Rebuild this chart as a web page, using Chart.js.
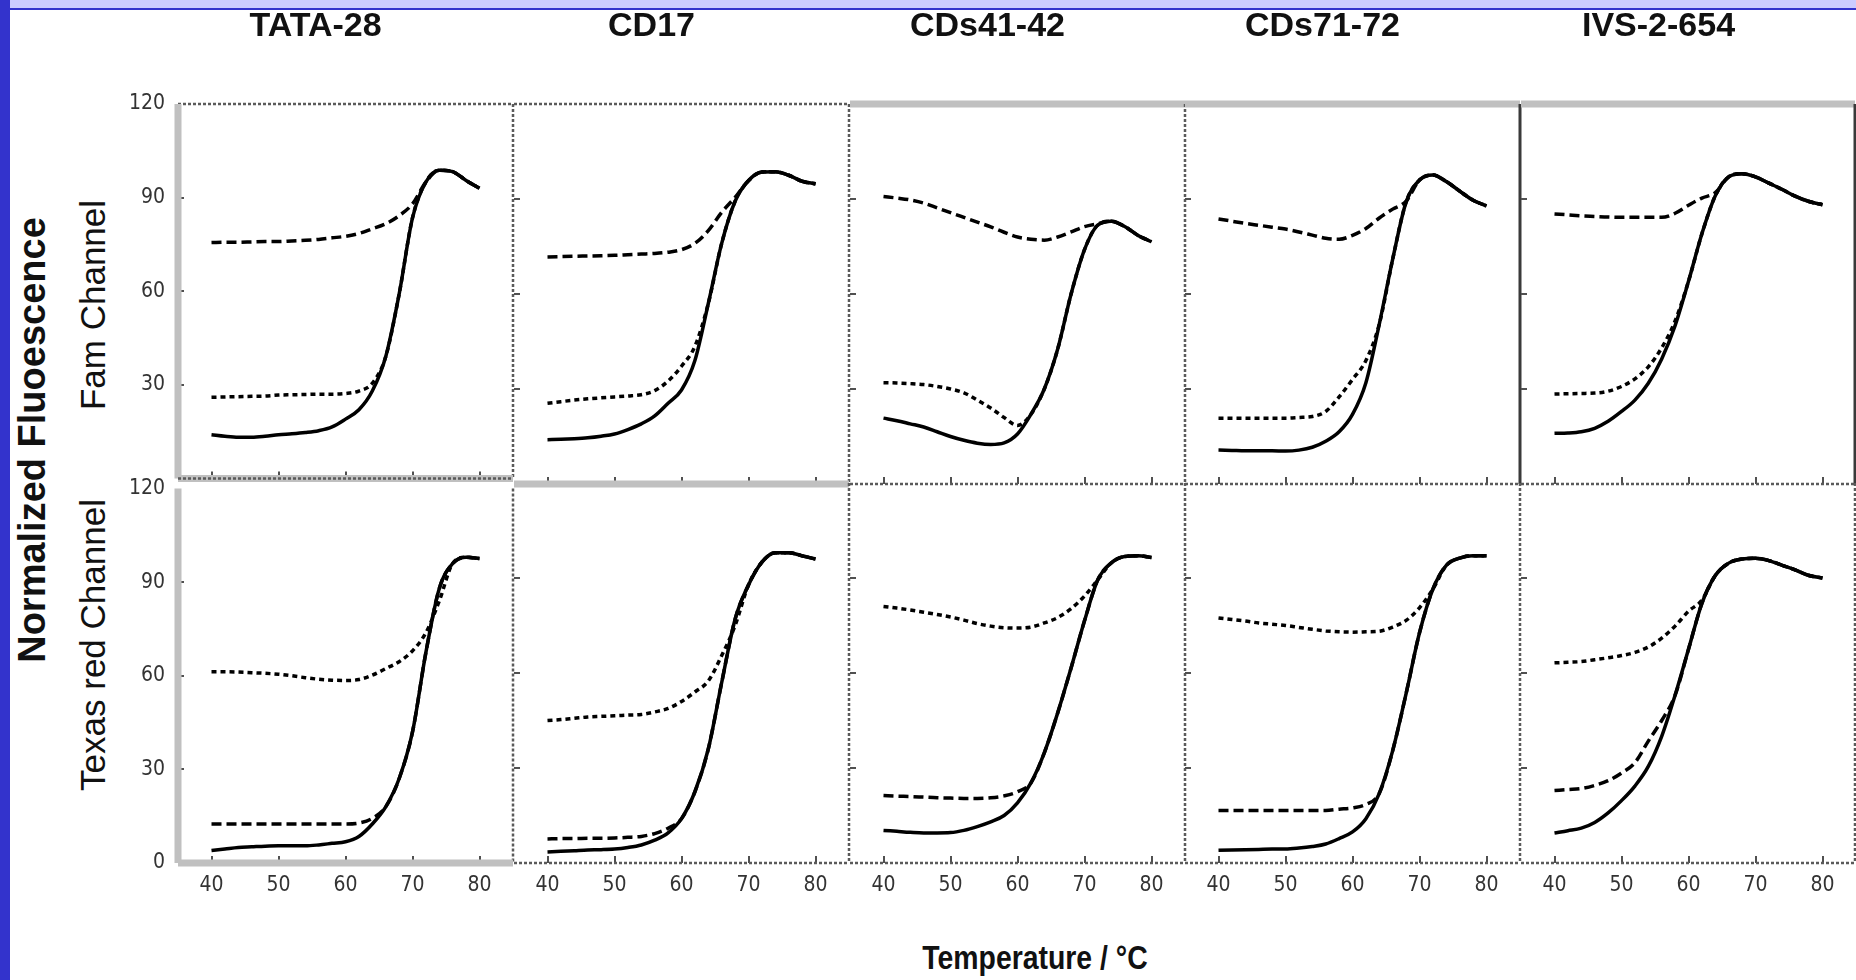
<!DOCTYPE html>
<html>
<head>
<meta charset="utf-8">
<script src="https://cdn.jsdelivr.net/npm/chart.js@4/dist/chart.umd.min.js"></script>
<style>
  body { margin: 0; background: #fff; width: 1856px; height: 980px; position: relative; overflow: hidden; font-family: 'Liberation Sans', Arial, sans-serif; color: #111; }
  #band { position: absolute; left: 0; top: 0; width: 1856px; height: 8px; background: #ccccff; border-bottom: 2px solid #3333cc; }
  #bar { position: absolute; left: 0; top: 0; width: 10px; height: 980px; background: #3333cc; }
  .vlabel { position: absolute; transform: translate(-50%, -50%) rotate(-90deg); white-space: nowrap; }
  canvas { position: absolute; }
</style>
</head>
<body>
<div id="band"></div>
<div id="bar"></div>
<div class="vlabel" style="left:32px; top:440px; font-weight:bold; font-size:38px;">Normalized Fluoescence</div>
<div class="vlabel" style="left:93px; top:305px; font-size:35px;">Fam Channel</div>
<div class="vlabel" style="left:93px; top:645px; font-size:35px;">Texas red Channel</div>
<div style="position:absolute; left:1035px; top:958px; transform:translate(-50%,-50%) scaleX(0.86); font:bold 33px 'Liberation Sans',sans-serif; white-space:nowrap;">Temperature / °C</div>
<script>
// melting curves (temperature in °C, normalized fluorescence)
const temps = [40, 42, 44, 46, 48, 50, 52, 54, 56, 58, 60, 62, 64, 66, 68, 70, 72, 74, 76, 78, 80];
const xTicks = [40, 50, 60, 70, 80];
const yTicks = [0, 30, 60, 90, 120];
const titles = ['TATA-28', 'CD17', 'CDs41-42', 'CDs71-72', 'IVS-2-654'];

// TATA-28
const tataFamSolid = [14, 13.5, 13.2, 13.2, 13.5, 14, 14.3, 14.7, 15.3, 16.5, 19, 22, 28, 39, 59, 83.5, 95, 98.8, 98.3, 95.5, 93];
const tataFamLong = [75.6, 75.7, 75.7, 75.8, 75.9, 75.9, 76.1, 76.3, 76.6, 77.1, 77.6, 78.5, 80, 81.6, 84.2, 88, 95, 98.8, 98.3, 95.5, 93];
const tataFamShort = [26, 26.1, 26.2, 26.3, 26.4, 26.7, 26.8, 26.9, 27, 27, 27.2, 28, 30.5, 39, 59, 83.5, 95, 98.8, 98.3, 95.5, 93];
const tataTrSolid = [4, 4.5, 5, 5.2, 5.4, 5.5, 5.5, 5.5, 5.8, 6.3, 6.8, 8.5, 12.5, 18, 27, 42, 67.5, 88, 96, 98, 97.6];
const tataTrLong = [12.5, 12.5, 12.5, 12.5, 12.5, 12.5, 12.5, 12.5, 12.5, 12.5, 12.5, 12.8, 14.3, 18, 27, 42, 67.5, 88, 96, 98, 97.6];
const tataTrShort = [61.3, 61.3, 61.2, 61, 60.8, 60.5, 60, 59.4, 58.9, 58.6, 58.5, 58.8, 60.2, 62.3, 64.5, 68, 73.8, 84, 96, 98, 97.6];

// CD17
const cd17FamSolid = [14, 14.1, 14.3, 14.6, 15.1, 15.8, 17.2, 19, 21.5, 25.5, 29.7, 39, 57, 76, 89.3, 95.8, 98.5, 98.6, 97.5, 95.6, 94.8];
const cd17FamLong = [71.7, 71.8, 71.9, 72, 72.1, 72.2, 72.4, 72.6, 72.8, 73.2, 74, 76, 80, 85.8, 90.5, 95.8, 98.5, 98.6, 97.5, 95.6, 94.8];
const cd17FamShort = [25.5, 26, 26.5, 26.9, 27.2, 27.5, 27.8, 28.2, 29.5, 32.5, 37.2, 43.5, 57, 76, 89.3, 95.8, 98.5, 98.6, 97.5, 95.6, 94.8];
const cd17TrSolid = [3.5, 3.7, 3.9, 4.1, 4.2, 4.4, 4.9, 5.7, 7.2, 9.5, 14, 22.5, 36, 57, 77, 87.8, 95, 98, 98, 97, 96];
const cd17TrLong = [7.6, 7.7, 7.7, 7.8, 7.8, 7.9, 8.1, 8.4, 9.3, 11, 14, 22.5, 36, 57, 77, 87.8, 95, 98, 98, 97, 96];
const cd17TrShort = [45, 45.3, 45.7, 46.1, 46.3, 46.5, 46.7, 46.9, 47.7, 48.8, 51, 54, 57.5, 65.5, 75, 87.8, 95, 98, 98, 97, 96];

// CDs41-42
const cds41FamSolid = [20.8, 20, 19, 18, 16.5, 15, 13.8, 12.9, 12.5, 13, 15.8, 22, 30, 42.6, 60, 74, 81.8, 83, 81.3, 78.5, 76.5];
const cds41FamLong = [90.8, 90.3, 89.7, 88.7, 87.2, 85.7, 84.2, 82.7, 81.2, 79.5, 78, 77.3, 77, 78, 79.6, 81.3, 82.2, 83, 81.3, 78.5, 76.5];
const cds41FamShort = [32, 31.9, 31.7, 31.4, 30.8, 30, 28.8, 26.5, 24, 21, 18.5, 22, 30, 42.6, 60, 74, 81.8, 83, 81.3, 78.5, 76.5];
const cds41TrSolid = [10.3, 10, 9.7, 9.5, 9.5, 9.6, 10.3, 11.5, 13, 15, 19, 25.3, 34.8, 47.4, 61.6, 76.5, 89.5, 94.8, 96.8, 97, 96.5];
const cds41TrLong = [21.3, 21.1, 21, 20.8, 20.6, 20.5, 20.4, 20.4, 20.6, 21.2, 22.5, 25.3, 34.8, 47.4, 61.6, 76.5, 89.5, 94.8, 96.8, 97, 96.5];
const cds41TrShort = [81, 80.5, 79.9, 79.2, 78.5, 77.7, 76.7, 75.6, 74.8, 74.3, 74.2, 74.5, 75.8, 77.5, 80.3, 84.3, 89.5, 94.8, 96.8, 97, 96.5];

// CDs71-72
const cds71FamSolid = [10.7, 10.6, 10.5, 10.5, 10.5, 10.4, 10.7, 11.6, 13.5, 16.5, 22, 32, 50.5, 71, 89, 96, 97.6, 95.5, 92.5, 89.6, 87.8];
const cds71FamLong = [83.7, 83, 82.3, 81.7, 81.1, 80.5, 79.6, 78.6, 77.6, 77.3, 78.5, 80.7, 84, 86.8, 89.3, 96, 97.6, 95.5, 92.5, 89.6, 87.8];
const cds71FamShort = [20.8, 20.8, 20.8, 20.8, 20.8, 20.8, 21, 21.3, 22.9, 27.5, 33, 39, 50.5, 71, 89, 96, 97.6, 95.5, 92.5, 89.6, 87.8];
const cds71TrSolid = [4, 4.1, 4.2, 4.3, 4.4, 4.4, 4.7, 5.2, 6, 7.7, 9.8, 14, 22, 35.5, 53.5, 72.7, 86.5, 94, 96.3, 97, 97];
const cds71TrLong = [16.6, 16.6, 16.6, 16.6, 16.6, 16.6, 16.6, 16.6, 16.6, 17, 17.4, 18.5, 22, 35.5, 53.5, 72.7, 86.5, 94, 96.3, 97, 97];
const cds71TrShort = [77.4, 76.9, 76.4, 75.8, 75.4, 75, 74.4, 73.8, 73.3, 73, 72.9, 73, 73.2, 74.5, 76.6, 80.6, 86.5, 94, 96.3, 97, 97];

// IVS-2-654
const ivsFamSolid = [16, 16.1, 16.5, 17.6, 19.8, 22.9, 26.5, 31.8, 39.5, 50, 64, 79, 91, 97, 98, 97, 95, 93, 90.8, 89.2, 88.2];
const ivsFamLong = [85.3, 85, 84.7, 84.5, 84.3, 84.2, 84.2, 84.2, 84.2, 85.5, 88, 90.3, 92, 97, 98, 97, 95, 93, 90.8, 89.2, 88.2];
const ivsFamShort = [28.4, 28.5, 28.6, 28.7, 29.3, 30.8, 33.2, 37, 43, 51.5, 64, 79, 91, 97, 98, 97, 95, 93, 90.8, 89.2, 88.2];
const ivsTrSolid = [9.5, 10.2, 11, 12.8, 15.8, 19.7, 24.3, 30.5, 40, 53, 67.5, 82, 90.8, 94.7, 96, 96.2, 95.5, 94, 92.5, 90.8, 90];
const ivsTrLong = [22.9, 23.2, 23.5, 24.5, 26, 28.4, 31.7, 38.5, 45, 53, 67.5, 82, 90.8, 94.7, 96, 96.2, 95.5, 94, 92.5, 90.8, 90];
const ivsTrShort = [63.2, 63.4, 63.6, 64.2, 64.8, 65.5, 66.5, 68.2, 71, 74.8, 79.5, 83, 90.8, 94.7, 96, 96.2, 95.5, 94, 92.5, 90.8, 90];

const famRows = [
  [tataFamSolid, tataFamLong, tataFamShort],
  [cd17FamSolid, cd17FamLong, cd17FamShort],
  [cds41FamSolid, cds41FamLong, cds41FamShort],
  [cds71FamSolid, cds71FamLong, cds71FamShort],
  [ivsFamSolid, ivsFamLong, ivsFamShort]
];
const trRows = [
  [tataTrSolid, tataTrLong, tataTrShort],
  [cd17TrSolid, cd17TrLong, cd17TrShort],
  [cds41TrSolid, cds41TrLong, cds41TrShort],
  [cds71TrSolid, cds71TrLong, cds71TrShort],
  [ivsTrSolid, ivsTrLong, ivsTrShort]
];

// layout of the panel grid
const panelLeft = [178, 514, 850, 1185, 1521];
const panelTop = [104, 483];
const PW = 335, PH = 380, PAD_L = 60, PAD_R = 32;
const LABEL_FONT = "'Liberation Sans Narrow', 'DejaVu Sans Condensed', 'Liberation Sans', sans-serif";

const dashes = [[], [10, 5], [5, 4]];

const edgeStyles = {
  grey: [{color: '#c0c0c0', width: 7, dash: []}],
  dot: [{color: '#5a5a5a', width: 2.5, dash: [3, 2]}],
  dark: [{color: '#3a3a3a', width: 3, dash: []}],
  greydot: [{color: '#c0c0c0', width: 7, dash: []}, {color: '#5a5a5a', width: 2.5, dash: [3, 2]}]
};
const frames = [
  [
    {top: 'dot', left: 'grey', right: 'dot', bottom: 'greydot'},
    {top: 'dot', right: 'dot', bottom: 'grey'},
    {top: 'grey', right: 'dot', bottom: 'dot'},
    {top: 'grey', right: 'dark', bottom: 'dot'},
    {top: 'grey', right: 'dark', bottom: 'dot'}
  ],
  [
    {left: 'grey', right: 'dot', bottom: 'grey'},
    {right: 'dot', bottom: 'dot'},
    {right: 'dot', bottom: 'dot'},
    {right: 'dot', bottom: 'dot'},
    {right: 'dot', bottom: 'dot'}
  ]
];

function line(ctx, x1, y1, x2, y2) {
  ctx.beginPath(); ctx.moveTo(x1, y1); ctx.lineTo(x2, y2); ctx.stroke();
}

// panel border + inward tick marks
const framePlugin = {
  id: 'frame',
  afterDatasetsDraw(chart, args, opts) {
    const ctx = chart.ctx, a = chart.chartArea;
    const xs = chart.scales.x, ys = chart.scales.y;
    ctx.save();
    ctx.strokeStyle = '#505050';
    ctx.lineWidth = 2;
    xTicks.forEach(v => {
      const px = Math.round(xs.getPixelForValue(v));
      line(ctx, px, a.bottom, px, a.bottom - 7);
    });
    yTicks.slice(1, -1).forEach(v => {
      const py = Math.round(ys.getPixelForValue(v));
      line(ctx, a.left, py, a.left + 6, py);
    });
    const right = Math.min(a.right, 1855 - chart.canvas.offsetLeft);
    const sides = {
      top: [a.left, a.top, right, a.top],
      bottom: [a.left, a.bottom, right, a.bottom],
      left: [a.left, a.top, a.left, a.bottom],
      right: [right, a.top, right, a.bottom]
    };
    Object.keys(opts.edges).forEach(side => {
      edgeStyles[opts.edges[side]].forEach(st => {
        ctx.strokeStyle = st.color;
        ctx.lineWidth = st.width;
        ctx.setLineDash(st.dash);
        line(ctx, ...sides[side]);
      });
    });
    ctx.restore();
  }
};

function makePanel(col, row) {
  const series = row === 0 ? famRows[col] : trRows[col];
  const padTop = row === 0 ? 104 : 20;
  const padBottom = row === 0 ? 20 : 60;
  const canvas = document.createElement('canvas');
  canvas.width = PAD_L + PW + PAD_R;
  canvas.height = padTop + PH + padBottom;
  canvas.style.left = (panelLeft[col] - PAD_L) + 'px';
  canvas.style.top = (panelTop[row] - padTop) + 'px';
  document.body.appendChild(canvas);

  const datasets = series.map((vals, i) => ({
    data: temps.map((t, k) => ({x: t, y: vals[k]})),
    borderColor: '#000',
    borderWidth: 3.5,
    borderDash: dashes[i],
    pointRadius: 0,
    cubicInterpolationMode: 'monotone',
    fill: false
  }));

  new Chart(canvas, {
    type: 'line',
    data: {datasets: datasets},
    options: {
      responsive: false,
      animation: false,
      events: [],
      layout: {padding: {left: 0, right: PAD_R, top: row === 0 ? 0 : padTop, bottom: 0}},
      plugins: {
        legend: {display: false},
        tooltip: {enabled: false},
        title: {
          display: row === 0,
          text: titles[col],
          color: '#111',
          font: {family: "'Liberation Sans', Arial, sans-serif", size: 34, weight: 'bold', lineHeight: 1},
          padding: {top: 10, bottom: 60}
        },
        frame: {edges: frames[row][col]}
      },
      scales: {
        x: {
          type: 'linear', min: 35, max: 85,
          grid: {display: false, drawTicks: false},
          border: {display: false},
          afterBuildTicks: s => { s.ticks = xTicks.map(v => ({value: v})); },
          afterFit: s => { s.height = padBottom; },
          ticks: {display: row === 1, padding: 10, color: '#333', autoSkip: false, maxRotation: 0,
                  font: {family: LABEL_FONT, size: 21}}
        },
        y: {
          min: 0, max: 120,
          grid: {display: false, drawTicks: false},
          border: {display: false},
          afterBuildTicks: s => { s.ticks = yTicks.map(v => ({value: v})); },
          afterFit: s => { s.width = PAD_L; },
          ticks: {display: col === 0, padding: 13, color: '#333',
                  font: {family: LABEL_FONT, size: 21},
                  callback: v => (row === 0 && v === 0) ? '' : v}
        }
      }
    },
    plugins: [framePlugin]
  });
}

for (let row = 0; row < 2; row++) {
  for (let col = 0; col < 5; col++) makePanel(col, row);
}
</script>
</body>
</html>
